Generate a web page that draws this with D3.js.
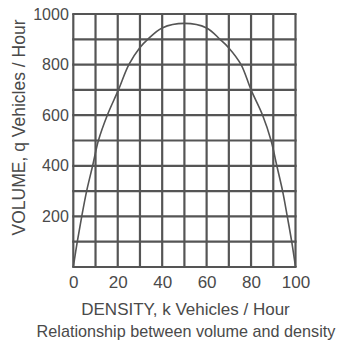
<!DOCTYPE html>
<html>
<head>
<meta charset="utf-8">
<script src="https://cdn.jsdelivr.net/npm/d3@7"></script>
<style>
  html, body { margin: 0; padding: 0; background: #fff; }
  svg { display: block; }
  text { font-family: "Liberation Sans", Arial, sans-serif; fill: #4a4a4a; }
</style>
</head>
<body>
<svg id="chart" width="341" height="349"></svg>
<script>
// Density k (vehicles/hour) and volume q (vehicles/hour)
const density = [0, 1.8, 3.8, 6.0, 8.7, 11.3, 15.3, 20.3, 25, 30, 33.5, 40, 50, 60, 66, 70, 75.5, 80, 85.2, 89, 91.6, 94.2, 96.3, 98.3, 100];
const volume  = [0, 100, 200, 300, 400, 500, 600, 700, 800, 868, 900, 945, 963, 945, 900, 866, 800, 700, 600, 500, 400, 300, 200, 100, 0];
const xGrid = [0, 10, 20, 30, 40, 50, 60, 70, 80, 90, 100];
const yGrid = [0, 100, 200, 300, 400, 500, 600, 700, 800, 900, 1000];
const xTickLabels = [0, 20, 40, 60, 80, 100];
const yTickLabels = [200, 400, 600, 800, 1000];
const xTitle = "DENSITY, k Vehicles / Hour";
const yTitle = "VOLUME, q Vehicles / Hour";
const caption = "Relationship between volume and density";

const svg = d3.select("#chart");
const mLeft = 73.3, mRight = 295.5, mTop = 14, mBottom = 267;
const x = d3.scaleLinear().domain([0, 100]).range([mLeft, mRight]);
const y = d3.scaleLinear().domain([0, 1000]).range([mBottom, mTop]);
const gridColor = "#555";

const g = svg.append("g");
g.selectAll("line.v").data(xGrid).join("line").attr("class", "v")
  .attr("x1", d => x(d)).attr("x2", d => x(d))
  .attr("y1", y(0)).attr("y2", y(1000))
  .attr("stroke", gridColor).attr("stroke-width", 2.2);
g.selectAll("line.h").data(yGrid).join("line").attr("class", "h")
  .attr("y1", d => y(d)).attr("y2", d => y(d))
  .attr("x1", x(0) - 1.1).attr("x2", x(100) + 1.1)
  .attr("stroke", gridColor).attr("stroke-width", 2.2);

const pts = density.map((d, i) => [d, volume[i]]);
g.append("path")
  .attr("d", d3.line().x(d => x(d[0])).y(d => y(d[1])).curve(d3.curveCatmullRom.alpha(0.5))(pts))
  .attr("fill", "none").attr("stroke", "#555").attr("stroke-width", 1.6);

const xAxis = svg.append("g").attr("transform", `translate(0,${mBottom})`)
  .call(d3.axisBottom(x).tickValues(xTickLabels).tickSize(0).tickFormat(d3.format("d")));
xAxis.select(".domain").remove();
xAxis.selectAll("text").attr("font-size", 17).attr("dy", null).attr("y", 20.5)
  .style("font-family", "Liberation Sans, Arial, sans-serif").attr("fill", "#4a4a4a");

const yAxis = svg.append("g").attr("transform", `translate(${mLeft - 4},0)`)
  .call(d3.axisLeft(y).tickValues(yTickLabels).tickSize(0).tickFormat(d3.format("d")));
yAxis.select(".domain").remove();
yAxis.selectAll("text").attr("font-size", 16).attr("x", -0.5)
  .style("font-family", "Liberation Sans, Arial, sans-serif").attr("fill", "#4a4a4a");

svg.append("text").attr("x", 185.5).attr("y", 315)
  .attr("text-anchor", "middle").attr("font-size", 17).text(xTitle);
svg.append("text").attr("x", 186).attr("y", 337)
  .attr("text-anchor", "middle").attr("font-size", 16.2).text(caption);
svg.append("text").attr("transform", "translate(25,127.5) rotate(-90)")
  .attr("text-anchor", "middle").attr("font-size", 17.5).text(yTitle);
</script>
</body>
</html>
